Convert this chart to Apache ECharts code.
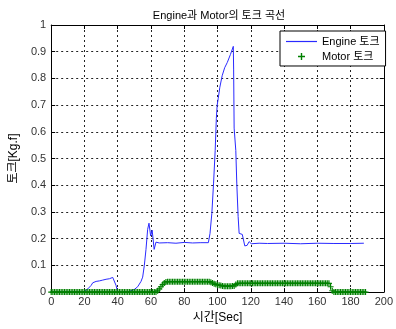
<!DOCTYPE html>
<html>
<head>
<meta charset="utf-8">
<script src="https://cdn.jsdelivr.net/npm/echarts@6/dist/echarts.min.js"></script>
<style>
  html, body { margin: 0; padding: 0; background: #fff; }
  #chart { width: 396px; height: 329px; }
</style>
</head>
<body>
<div id="chart"></div>
<script>
// Engine torque samples (time in sec, torque in Kg.f)
const engineTime = [0, 19, 20, 22, 24, 25, 27, 29, 31, 33, 35, 37, 38, 39, 40,
  46, 48, 50, 52, 54, 55, 56, 57, 58, 58.8, 59.8, 60.7, 61.9, 63, 65, 70, 75, 80, 85, 90, 94.5,
  95.5, 96.6, 97.6, 98.6, 99.3, 99.8, 100.4, 101.4, 102.8, 104.3, 105.9, 107.8, 109.5,
  109.7, 110, 111, 111.6, 112.4, 113, 114.9, 116.4, 117.8, 119, 120.3,
  125, 130, 140, 150, 160, 170, 180, 188];
const engineTorque = [0, 0, 0.003, 0.012, 0.025, 0.035, 0.04, 0.042, 0.045, 0.048, 0.05, 0.055, 0.05, 0.025, 0,
  0, 0.005, 0.01, 0.02, 0.04, 0.056, 0.1, 0.16, 0.235, 0.258, 0.21, 0.232, 0.16, 0.187, 0.184, 0.185, 0.183, 0.186, 0.184, 0.185, 0.185,
  0.22, 0.295, 0.405, 0.53, 0.65, 0.7, 0.724, 0.767, 0.81, 0.84, 0.86, 0.89, 0.92,
  0.835, 0.614, 0.53, 0.405, 0.283, 0.22, 0.216, 0.173, 0.175, 0.189, 0.181,
  0.183, 0.182, 0.183, 0.181, 0.183, 0.182, 0.182, 0.183];

// Motor torque, one sample per second from t = 0
const motorTorque = [
  0, 0, 0, 0, 0, 0, 0, 0, 0, 0, 0, 0, 0, 0, 0, 0, 0, 0, 0, 0,
  0, 0, 0, 0, 0, 0, 0, 0, 0, 0, 0, 0, 0, 0, 0, 0, 0, 0, 0, 0,
  0, 0, 0, 0, 0, 0, 0, 0, 0, 0, 0, 0, 0, 0, 0, 0, 0, 0, 0, 0,
  0, 0, 0, 0, 0.005, 0.012, 0.02, 0.028, 0.034, 0.038,
  0.039, 0.039, 0.039, 0.039, 0.039, 0.039, 0.039, 0.039, 0.039, 0.039,
  0.039, 0.039, 0.039, 0.039, 0.039, 0.039, 0.039, 0.039, 0.039, 0.039,
  0.039, 0.039, 0.039, 0.039, 0.039, 0.039, 0.037, 0.034, 0.031, 0.029,
  0.027, 0.026, 0.025, 0.023, 0.022, 0.022, 0.022, 0.022, 0.022, 0.023,
  0.023, 0.028, 0.033, 0.033, 0.033, 0.033, 0.033, 0.033, 0.033, 0.033,
  0.033, 0.033, 0.033, 0.033, 0.033, 0.033, 0.033, 0.033, 0.033, 0.033,
  0.033, 0.033, 0.033, 0.033, 0.033, 0.033, 0.033, 0.033, 0.033, 0.033,
  0.033, 0.033, 0.033, 0.033, 0.033, 0.033, 0.033, 0.033, 0.033, 0.033,
  0.033, 0.033, 0.033, 0.033, 0.033, 0.033, 0.033, 0.033, 0.033, 0.033,
  0.033, 0.033, 0.033, 0.033, 0.033, 0.033, 0.033, 0.033, 0.02, 0.005,
  0, 0, 0, 0, 0, 0, 0, 0, 0, 0,
  0, 0, 0, 0, 0, 0, 0, 0, 0, 0
];

const FONT = '"Liberation Sans", "Noto Sans CJK KR", sans-serif';
const STAR = 'path://M4,0h2v4h4v2h-4v4h-2v-4h-4v-2h4z';
const DASH = 'path://M0,0h31v1.2h-31z';

const chart = echarts.init(document.getElementById('chart'));

const option = {
  animation: false,
  backgroundColor: '#fff',
  textStyle: { fontFamily: FONT },
  title: {
    text: 'Engine과 Motor의 토크 곡선',
    left: 214,
    top: 5,
    textAlign: 'center',
    textStyle: { fontSize: 11, fontWeight: 'normal', color: '#000', fontFamily: FONT }
  },
  legend: {
    orient: 'vertical',
    left: 280,
    top: 31,
    padding: [5, 6, 4, 6],
    itemGap: 4,
    itemWidth: 31,
    itemHeight: 7,
    backgroundColor: '#fff',
    borderColor: '#000',
    borderWidth: 1,
    borderRadius: 0,
    textStyle: { fontSize: 11, color: '#000', fontFamily: FONT },
    data: [
      { name: 'Engine 토크', icon: DASH },
      { name: 'Motor 토크', icon: STAR }
    ]
  },
  grid: { left: 44, right: 6, top: 25, bottom: 32, show: false },
  xAxis: [{
    type: 'value',
    min: 0, max: 200, interval: 20,
    name: '시간[Sec]',
    nameLocation: 'middle',
    nameGap: 17,
    nameTextStyle: { fontSize: 12, color: '#000', fontFamily: FONT },
    axisLine: { lineStyle: { color: '#000', width: 1 } },
    axisTick: { inside: true, length: 4, lineStyle: { color: '#000' } },
    axisLabel: { fontSize: 11, color: '#333', margin: 4, fontFamily: FONT },
    splitLine: { show: true, lineStyle: { color: '#222', type: [2, 3], width: 1 } }
  }, {
    type: 'value',
    position: 'top',
    min: 0, max: 200, interval: 20,
    axisLine: { show: true, onZero: false, lineStyle: { color: '#000' } },
    axisTick: { inside: true, length: 4, lineStyle: { color: '#000' } },
    axisLabel: { show: false },
    splitLine: { show: false }
  }],
  yAxis: [{
    type: 'value',
    min: 0, max: 1, interval: 0.1,
    name: '토크[Kg.f]',
    nameLocation: 'middle',
    nameGap: 31,
    nameTextStyle: { fontSize: 12, color: '#000', fontFamily: FONT },
    axisLine: { show: true, lineStyle: { color: '#000', width: 1 } },
    axisTick: { show: true, inside: true, length: 4, lineStyle: { color: '#000' } },
    axisLabel: { fontSize: 11, color: '#333', margin: 5, fontFamily: FONT },
    splitLine: { show: true, lineStyle: { color: '#222', type: [2, 3], width: 1 } }
  }, {
    type: 'value',
    position: 'right',
    min: 0, max: 1, interval: 0.1,
    axisLine: { show: true, onZero: false, lineStyle: { color: '#000' } },
    axisTick: { show: true, inside: true, length: 4, lineStyle: { color: '#000' } },
    axisLabel: { show: false },
    splitLine: { show: false }
  }],
  series: [{
    name: 'Engine 토크',
    type: 'line',
    symbol: 'none',
    lineStyle: { color: '#2a2aff', width: 1 },
    itemStyle: { color: '#2a2aff' },
    data: engineTime.map((t, i) => [t, engineTorque[i]]),
    z: 3
  }, {
    name: 'Motor 토크',
    type: 'scatter',
    symbol: STAR,
    symbolSize: 6,
    itemStyle: { color: '#008000', opacity: 1 },
    data: motorTorque.map((v, i) => [i, v]),
    z: 4
  }]
};

chart.setOption(option);
</script>
</body>
</html>
